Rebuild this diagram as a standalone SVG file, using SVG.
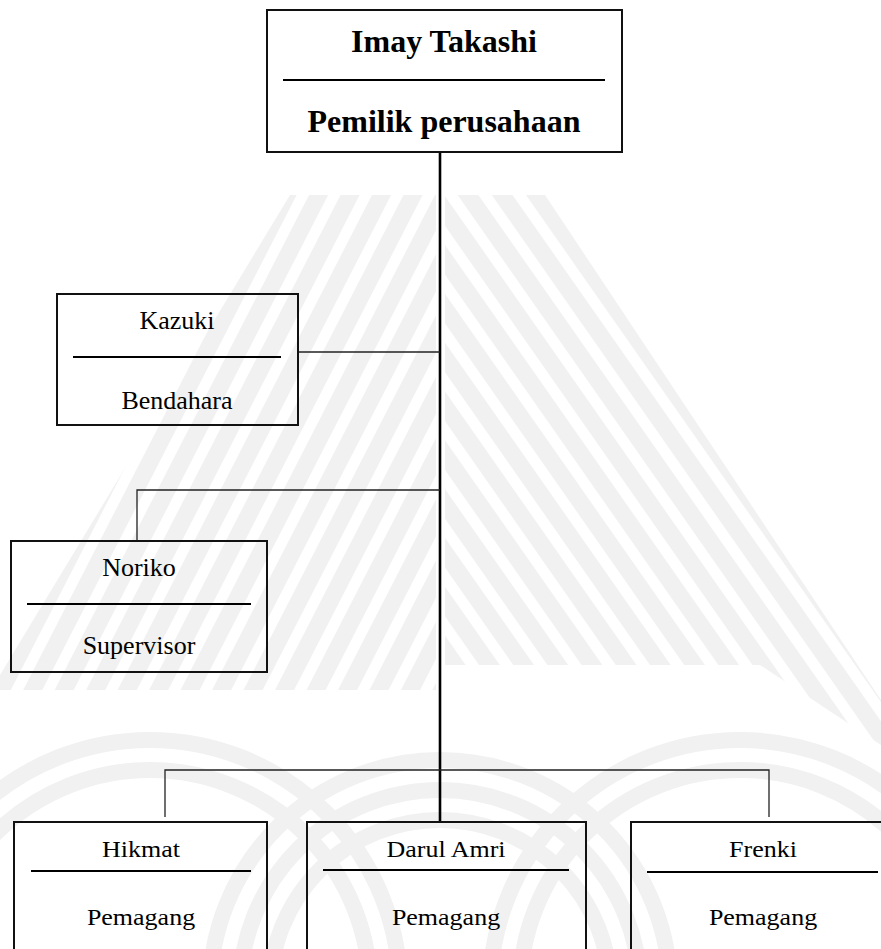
<svg xmlns="http://www.w3.org/2000/svg" width="881" height="949" viewBox="0 0 881 949">
<style>
.box{fill:none;stroke:#111;stroke-width:2}
.div{stroke:#000;stroke-width:2.2}
.con{fill:none;stroke:#222;stroke-width:1.3}
.trunk{fill:none;stroke:#000;stroke-width:2.6}
.t{font-family:"Liberation Serif","Times New Roman",serif;font-size:26px;fill:#000;text-anchor:middle}
.tb{font-family:"Liberation Serif","Times New Roman",serif;font-size:32px;font-weight:bold;fill:#000;text-anchor:middle}
.wm{fill:none;stroke:#f1f1f1;stroke-width:16}
</style>
<defs>
<pattern id="sr" width="28" height="28" patternUnits="userSpaceOnUse" patternTransform="rotate(55)"><rect width="28" height="17" fill="#f1f1f1"/></pattern>
<pattern id="sl" width="28" height="28" patternUnits="userSpaceOnUse" patternTransform="rotate(-62.8)"><rect width="28" height="17" fill="#f1f1f1"/></pattern>
<clipPath id="cb"><rect x="0" y="660" width="881" height="289"/></clipPath>
</defs>
<rect width="881" height="949" fill="#fff"/>
<g id="watermark">
<polygon points="445,195 545,195 881,700 881,745 760,665 445,665" fill="url(#sr)"/>
<polygon points="436,195 290,195 0,675 0,690 436,690" fill="url(#sl)"/>
<g clip-path="url(#cb)">
<circle class="wm" cx="440" cy="990" r="170"/>
<circle class="wm" cx="440" cy="990" r="200"/>
<circle class="wm" cx="440" cy="990" r="230"/>
<circle class="wm" cx="150" cy="990" r="220"/>
<circle class="wm" cx="150" cy="990" r="250"/>
<circle class="wm" cx="740" cy="990" r="220"/>
<circle class="wm" cx="740" cy="990" r="250"/>
</g>
</g>
<g id="connectors">
<line class="trunk" x1="440" y1="152" x2="440" y2="821"/>
<line class="con" x1="298" y1="352" x2="440" y2="352"/>
<path class="con" d="M440 490 H137 V541"/>
<path class="con" d="M165 817 V770 H769 V817"/>
</g>
<g id="owner">
<rect class="box" x="267" y="10" width="355" height="142"/>
<line class="div" x1="283" y1="80" x2="605" y2="80"/>
<text class="tb" x="444" y="52">Imay Takashi</text>
<text class="tb" x="444" y="132">Pemilik perusahaan</text>
</g>
<g id="kazuki">
<rect class="box" x="57" y="294" width="241" height="131"/>
<line class="div" x1="73" y1="357" x2="281" y2="357"/>
<text class="t" x="177" y="329">Kazuki</text>
<text class="t" x="177" y="409">Bendahara</text>
</g>
<g id="noriko">
<rect class="box" x="11" y="541" width="256" height="131"/>
<line class="div" x1="27" y1="604" x2="251" y2="604"/>
<text class="t" x="139" y="576">Noriko</text>
<text class="t" x="139" y="654">Supervisor</text>
</g>
<g id="hikmat">
<rect class="box" x="14" y="822" width="253" height="150"/>
<line class="div" x1="31" y1="871" x2="251" y2="871"/>
<text class="t" transform="translate(141 857) scale(1 0.9)">Hikmat</text>
<text class="t" transform="translate(141 925) scale(1 0.9)">Pemagang</text>
</g>
<g id="darul">
<rect class="box" x="307" y="822" width="279" height="150"/>
<line class="div" x1="323" y1="870" x2="569" y2="870"/>
<text class="t" transform="translate(446 857) scale(1 0.9)">Darul Amri</text>
<text class="t" transform="translate(446 925) scale(1 0.9)">Pemagang</text>
</g>
<g id="frenki">
<rect class="box" x="631" y="822" width="260" height="150"/>
<line class="div" x1="647" y1="872" x2="878" y2="872"/>
<text class="t" transform="translate(763 857) scale(1 0.9)">Frenki</text>
<text class="t" transform="translate(763 925) scale(1 0.9)">Pemagang</text>
</g>
</svg>
